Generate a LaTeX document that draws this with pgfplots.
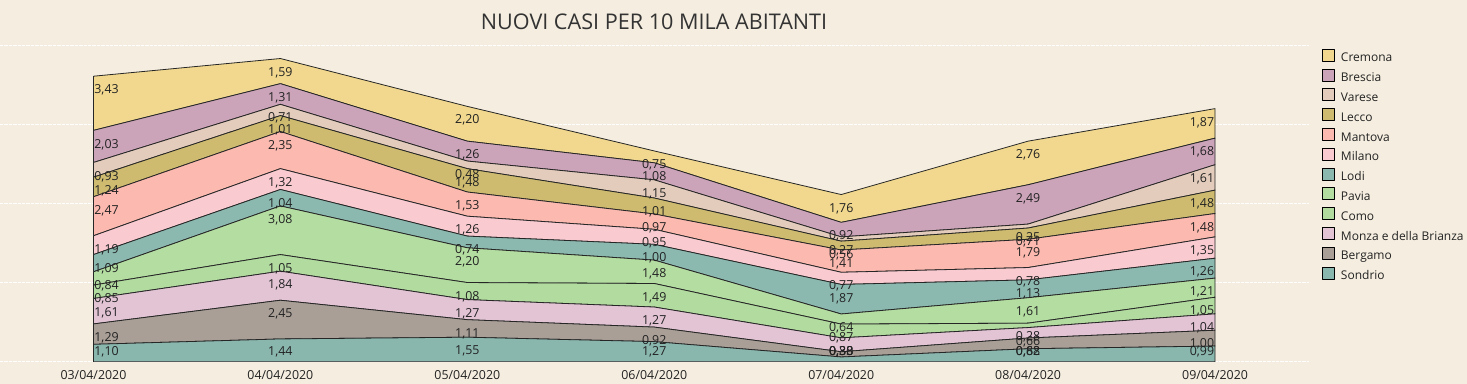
\documentclass[border=0pt]{standalone}
\usepackage{pgfplots}
\pgfplotsset{compat=1.18}
\usepackage{pgfplotstable}
\usepackage{fontspec}
\setmainfont{Open Sans}
\setsansfont{Open Sans}

\definecolor{bg}{RGB}{245,238,224}
\definecolor{cCremona}{RGB}{241,216,142}
\definecolor{cBrescia}{RGB}{204,164,185}
\definecolor{cVarese}{RGB}{228,204,188}
\definecolor{cLecco}{RGB}{206,187,112}
\definecolor{cMantova}{RGB}{252,185,175}
\definecolor{cMilano}{RGB}{249,203,209}
\definecolor{cLodi}{RGB}{139,185,176}
\definecolor{cPavia}{RGB}{180,221,162}
\definecolor{cComo}{RGB}{178,219,160}
\definecolor{cMonza}{RGB}{227,196,213}
\definecolor{cBergamo}{RGB}{169,159,151}
\definecolor{cSondrio}{RGB}{137,183,174}
\definecolor{txt}{RGB}{34,34,34}
\definecolor{ttl}{RGB}{51,51,51}

\pgfplotstableread{
x Sondrio Bergamo Monza Como Pavia Lodi Milano Mantova Lecco Varese Brescia Cremona
0 1.10 1.29 1.61 0.85 0.84 1.09 1.19 2.47 1.24 0.93 2.03 3.43
1 1.44 2.45 1.84 1.05 3.08 1.04 1.32 2.35 1.01 0.71 1.31 1.59
2 1.55 1.11 1.27 1.08 2.20 0.74 1.26 1.53 1.48 0.48 1.26 2.20
3 1.27 0.92 1.27 1.49 1.48 1.00 0.95 0.97 1.01 1.15 1.08 0.75
4 0.30 0.33 0.88 0.87 0.64 1.87 0.77 1.41 0.56 0.27 0.92 1.76
5 0.82 0.68 0.66 0.28 1.61 1.13 0.78 1.79 0.71 0.25 2.49 2.76
6 0.99 1.00 1.04 1.05 1.21 1.26 1.35 1.48 1.48 1.61 1.68 1.87
}\data

% cumulative tops of the bands (for label positions)
\pgfplotstablecreatecol[create col/expr={\thisrow{Sondrio}}]{CSondrio}\data
\pgfplotstablecreatecol[create col/expr={\thisrow{CSondrio}+\thisrow{Bergamo}}]{CBergamo}\data
\pgfplotstablecreatecol[create col/expr={\thisrow{CBergamo}+\thisrow{Monza}}]{CMonza}\data
\pgfplotstablecreatecol[create col/expr={\thisrow{CMonza}+\thisrow{Como}}]{CComo}\data
\pgfplotstablecreatecol[create col/expr={\thisrow{CComo}+\thisrow{Pavia}}]{CPavia}\data
\pgfplotstablecreatecol[create col/expr={\thisrow{CPavia}+\thisrow{Lodi}}]{CLodi}\data
\pgfplotstablecreatecol[create col/expr={\thisrow{CLodi}+\thisrow{Milano}}]{CMilano}\data
\pgfplotstablecreatecol[create col/expr={\thisrow{CMilano}+\thisrow{Mantova}}]{CMantova}\data
\pgfplotstablecreatecol[create col/expr={\thisrow{CMantova}+\thisrow{Lecco}}]{CLecco}\data
\pgfplotstablecreatecol[create col/expr={\thisrow{CLecco}+\thisrow{Varese}}]{CVarese}\data
\pgfplotstablecreatecol[create col/expr={\thisrow{CVarese}+\thisrow{Brescia}}]{CBrescia}\data
\pgfplotstablecreatecol[create col/expr={\thisrow{CBrescia}+\thisrow{Cremona}}]{CCremona}\data
\pgfplotsforeachungrouped \s in {Sondrio,Bergamo,Monza,Como,Pavia,Lodi,Milano,Mantova,Lecco,Varese,Brescia,Cremona}{%
  \edef\tmp{\noexpand\pgfplotstablecreatecol[create col/expr={max(\noexpand\thisrow{C\s}-0.88,0.6)}]{L\s}\noexpand\data}\tmp}

\pgfplotsset{lbl/.style={draw=none, mark=none, nodes near coords, point meta=explicit}}
\newcommand{\lab}[1]{%
  \addplot[lbl, restrict x to domain=-0.1:0.1, every node near coord/.append style={anchor=west}] table[x=x,y=L#1,meta=#1]{\data};
  \addplot[lbl, restrict x to domain=0.9:5.1, every node near coord/.append style={anchor=center}] table[x=x,y=L#1,meta=#1]{\data};
  \addplot[lbl, restrict x to domain=5.9:6.1, every node near coord/.append style={anchor=east}] table[x=x,y=L#1,meta=#1]{\data};}

\begin{document}
\begin{tikzpicture}[x=0.75pt,y=0.75pt]
\path[use as bounding box, fill=bg] (0,0) rectangle (1467,384);
\node[font=\fontsize{16.2}{19}\selectfont, text=ttl] at (654,362.5) {NUOVI CASI PER 10 MILA ABITANTI};
\begin{axis}[
  at={(0pt,16.725pt)}, anchor=south west,
  scale only axis, width=981.4pt, height=242.9pt,
  xmin=-0.5, xmax=6.5, ymin=0, ymax=20.5,
  stack plots=y,
  axis line style={draw=none}, tick style={draw=none},
  xtick={0,...,6},
  xticklabels={03/04/2020,04/04/2020,05/04/2020,06/04/2020,07/04/2020,08/04/2020,09/04/2020},
  xticklabel style={font=\fontsize{9.3}{11}\selectfont, text=txt, anchor=base, yshift=-13.2pt},
  ytick={0,5,10,15,20}, yticklabels={},
  ymajorgrids, grid style={white, line width=0.8pt, dash pattern=on 2.5pt off 0.8pt},
  every axis plot/.append style={draw=black!85, line width=0.6pt, line join=round},
  reverse legend,
  legend cell align=left,
  legend image code/.code={\draw[#1,draw=black,line width=0.7pt] (0pt,-2pt) rectangle (9pt,7pt);},
  legend style={draw=none, fill=none, inner sep=0pt, outer sep=0pt,
    at={(rel axis cs:1.0103,0.9660)}, anchor=north west,
    font=\fontsize{9}{11}\selectfont, text=txt, row sep=3pt,
    nodes={inner sep=0pt, text height=7pt, text depth=2pt},
    /tikz/every odd column/.append style={column sep=4.5pt}},
]
\addplot[fill=cSondrio] table[x=x,y=Sondrio]{\data} \closedcycle;
\addplot[fill=cBergamo] table[x=x,y=Bergamo]{\data} \closedcycle;
\addplot[fill=cMonza] table[x=x,y=Monza]{\data} \closedcycle;
\addplot[fill=cComo] table[x=x,y=Como]{\data} \closedcycle;
\addplot[fill=cPavia] table[x=x,y=Pavia]{\data} \closedcycle;
\addplot[fill=cLodi] table[x=x,y=Lodi]{\data} \closedcycle;
\addplot[fill=cMilano] table[x=x,y=Milano]{\data} \closedcycle;
\addplot[fill=cMantova] table[x=x,y=Mantova]{\data} \closedcycle;
\addplot[fill=cLecco] table[x=x,y=Lecco]{\data} \closedcycle;
\addplot[fill=cVarese] table[x=x,y=Varese]{\data} \closedcycle;
\addplot[fill=cBrescia] table[x=x,y=Brescia]{\data} \closedcycle;
\addplot[fill=cCremona] table[x=x,y=Cremona]{\data} \closedcycle;
\legend{Sondrio,Bergamo,Monza e della Brianza,Como,Pavia,Lodi,Milano,Mantova,Lecco,Varese,Brescia,Cremona}
\end{axis}
\begin{axis}[
  at={(0pt,16.725pt)}, anchor=south west,
  scale only axis, width=981.4pt, height=242.9pt,
  xmin=-0.5, xmax=6.5, ymin=0, ymax=20.5,
  hide axis, clip=false,
  /pgf/number format/.cd, fixed, fixed zerofill, precision=2, use comma, assume math mode=true,
  /pgfplots/.cd,
  every node near coord/.append style={font=\fontsize{9.3}{11}\selectfont, text=txt, inner sep=0.5pt},
]
\lab{Sondrio}
\lab{Bergamo}
\lab{Monza}
\lab{Como}
\lab{Pavia}
\lab{Lodi}
\lab{Milano}
\lab{Mantova}
\lab{Lecco}
\lab{Varese}
\lab{Brescia}
\lab{Cremona}
\end{axis}
\end{tikzpicture}
\end{document}
